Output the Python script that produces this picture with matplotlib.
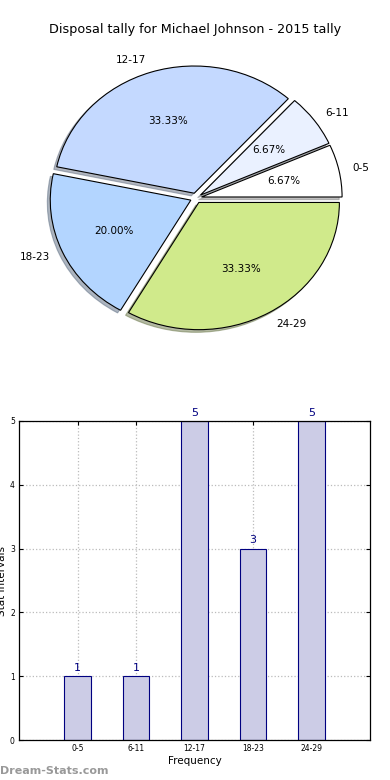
import numpy as np
import matplotlib
matplotlib.use('Agg')
import matplotlib.pyplot as plt

# data
labels = ['0-5', '6-11', '12-17', '18-23', '24-29']
counts = [1, 1, 5, 3, 5]
pie_colors = ['#ffffff', '#eaf1ff', '#c4d9ff', '#b3d5ff', '#d0ea8b']

fig = plt.figure(figsize=(3.9, 7.8), dpi=100)

# %%
# pie
ax1 = fig.add_axes([0, 0.5, 1, 0.5])
ax1.pie(counts, labels=labels, colors=pie_colors, autopct='%.2f%%',
        explode=[0.04] * len(counts),
        shadow={'ox': -0.015, 'oy': -0.015, 'shade': 0.5},
        startangle=0,
        wedgeprops={'edgecolor': 'black', 'linewidth': 0.8},
        textprops={'fontsize': 7.5})
ax1.set_aspect('auto')
ax1.set_xlim(-1.394, 1.38)
ax1.set_ylim(-1.509, 1.557)
ax1.axis('off')
fig.text(0.5, 1 - 30 / 780, 'Disposal tally for Michael Johnson - 2015 tally',
         ha='center', va='center', fontsize=9.2)

# %%
# bars
ax2 = fig.add_axes([19 / 390, 1 - 740 / 780, 351 / 390, 319 / 780])
x = np.arange(len(labels))
ax2.bar(x, counts, width=0.45, color='#ccccE6', edgecolor='#000080', linewidth=0.8)
for xi, c in zip(x, counts):
    ax2.text(xi, c + 0.05, str(c), ha='center', va='bottom', color='#000080', fontsize=8)
ax2.set_xlim(-1, 5)
ax2.set_ylim(0, 5)
ax2.set_xticks(x)
ax2.set_xticklabels(labels)
ax2.set_yticks(range(6))
ax2.tick_params(labelsize=5.5, direction='in', top=True, right=True, length=3, pad=3)
ax2.grid(True, linestyle=':', color='#bbbbbb', linewidth=0.9)
ax2.set_axisbelow(True)
ax2.set_xlabel('Frequency', fontsize=7.5, labelpad=2)
ax2.set_ylabel('Stat Intervals', fontsize=7.5, labelpad=2)
for s in ax2.spines.values():
    s.set_linewidth(0.9)

fig.text(0.0, 1 - 771 / 780, 'Dream-Stats.com', color='#999999', fontsize=8,
         fontweight='bold', ha='left', va='center')

plt.savefig('out.png', dpi=100)
